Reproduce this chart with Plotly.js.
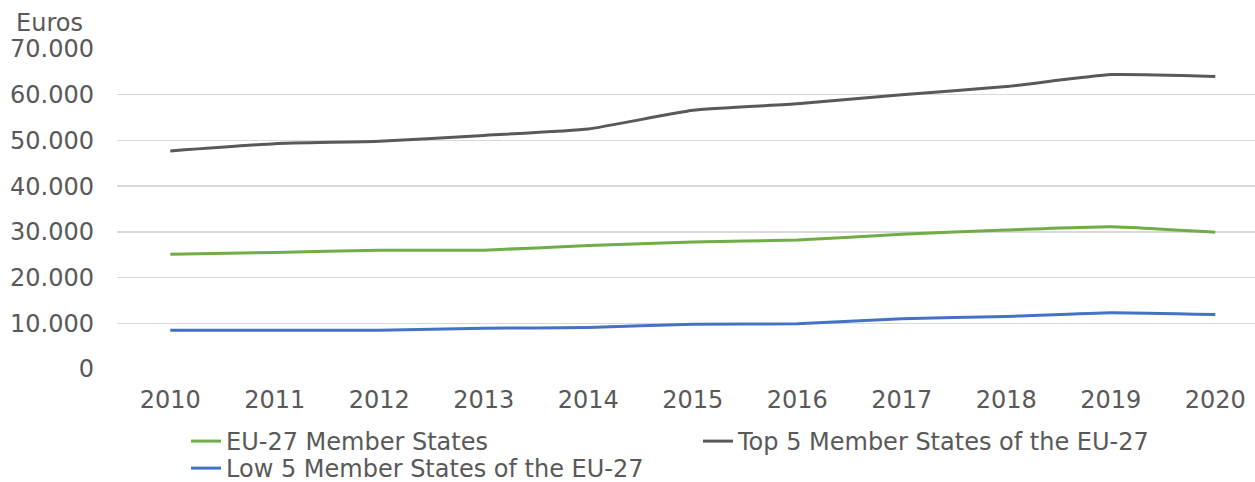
<!DOCTYPE html>
<html>
<head>
<meta charset="utf-8">
<script src="https://cdn.plot.ly/plotly-3.0.1.min.js"></script>
<style>html,body{margin:0;padding:0;background:#fff;}#chart{width:1255px;height:482px;}</style>
</head>
<body>
<div id="chart"></div>
<script>
const years = [2010, 2011, 2012, 2013, 2014, 2015, 2016, 2017, 2018, 2019, 2020];
const eu27 = [25100, 25500, 26000, 26000, 27000, 27800, 28200, 29500, 30400, 31100, 29900];
const top5 = [47700, 49300, 49800, 51100, 52500, 56600, 58000, 60000, 61800, 64400, 64000];
const low5 = [8450, 8500, 8500, 8900, 9100, 9800, 9900, 11000, 11500, 12300, 11900];
const seriesNames = ["EU-27 Member States", "Top 5 Member States of the EU-27", "Low 5 Member States of the EU-27"];
const yTickVals = [0, 10000, 20000, 30000, 40000, 50000, 60000, 70000];

const font = "DejaVu Sans, Verdana, sans-serif";
const mk = (y, name, color, leg) => ({
  x: years, y: y, name: name, type: 'scatter', mode: 'lines', legend: leg,
  line: {color: color, width: 3, shape: 'spline', smoothing: 0.4},
  hoverinfo: 'skip'
});
const data = [
  mk(eu27, seriesNames[0], '#70ad47', 'legend'),
  mk(top5, seriesNames[1], '#595959', 'legend'),
  mk(low5, seriesNames[2], '#4472c4', 'legend2')
];
const legBase = {
  orientation: 'h', xref: 'container', yref: 'container',
  x: 186 / 1255, xanchor: 'left', yanchor: 'top',
  entrywidth: 467, entrywidthmode: 'pixels', tracegroupgap: 0,
  font: {family: font, size: 24, color: '#595959'}, bgcolor: 'rgba(0,0,0,0)'
};
const layout = {
  width: 1255, height: 482,
  margin: {l: 117, r: 0, t: 49, b: 113, autoexpand: false},
  paper_bgcolor: '#fff', plot_bgcolor: '#fff',
  separators: ',.',
  font: {family: font, size: 24, color: '#595959'},
  xaxis: {
    range: [2009.49, 2020.38], tickvals: years, ticktext: years.map(String),
    showgrid: false, zeroline: false, showline: false, ticks: '', automargin: false,
    ticklabelstandoff: 14, tickfont: {family: font, size: 24, color: '#595959'}
  },
  yaxis: {
    range: [0, 70000], tickvals: yTickVals, tickformat: ',d', automargin: false,
    showgrid: true, gridcolor: '#d9d9d9', gridwidth: 1.5, zeroline: false, showline: false, ticks: '',
    ticklabelstandoff: 22, tickfont: {family: font, size: 24, color: '#595959'}
  },
  showlegend: true,
  legend: Object.assign({}, legBase, {y: 1 - 419 / 482}),
  legend2: Object.assign({}, legBase, {y: 1 - 446 / 482}),
  annotations: [{
    text: 'Euros', xref: 'paper', yref: 'paper', x: (14 - 117) / 1138, y: (369 - 7) / 320,
    xanchor: 'left', yanchor: 'top',
    showarrow: false, font: {family: font, size: 24, color: '#595959'}
  }]
};
Plotly.newPlot('chart', data, layout, {displayModeBar: false, staticPlot: true});
</script>
</body>
</html>
